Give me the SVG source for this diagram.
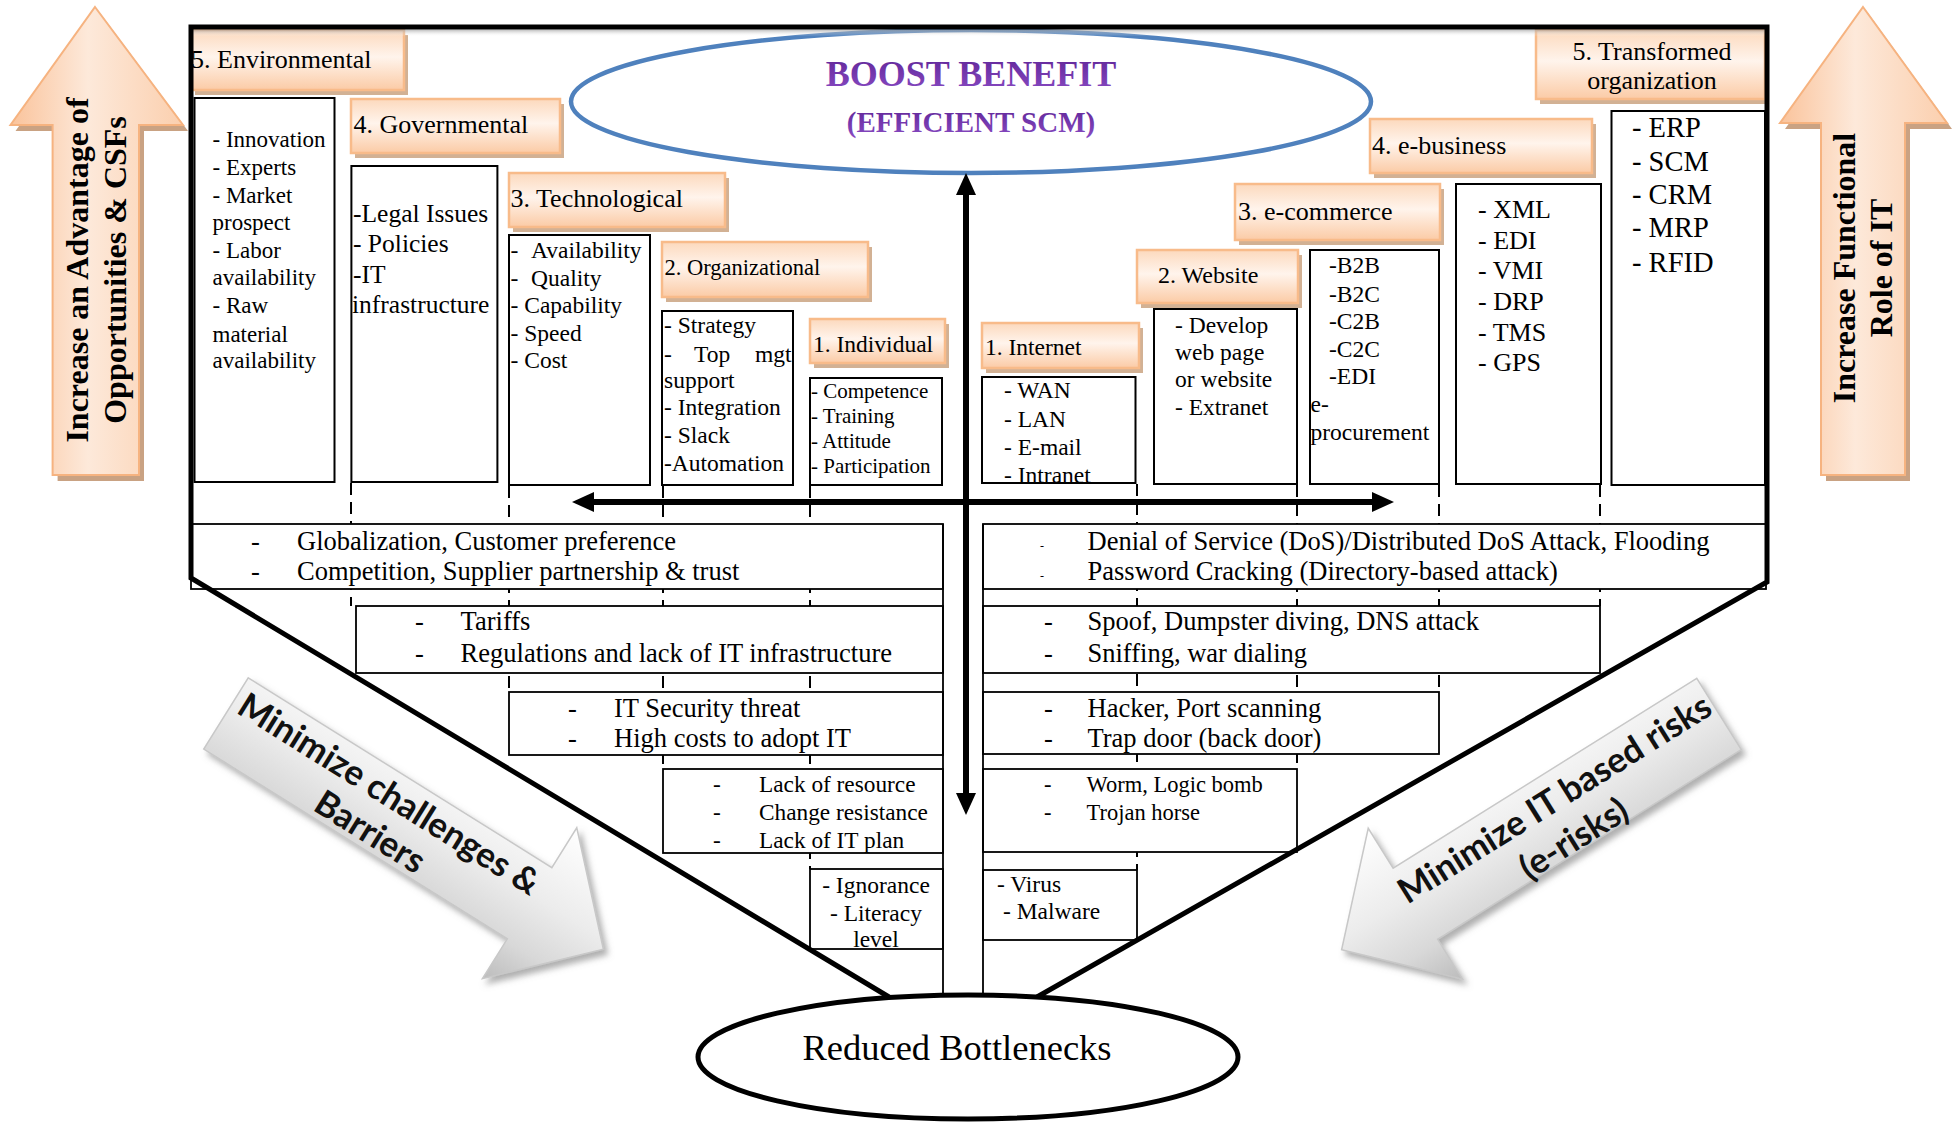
<svg xmlns="http://www.w3.org/2000/svg" width="1954" height="1123" viewBox="0 0 1954 1123">
<defs>
<style>
.sr{font-family:"Liberation Serif","Times New Roman",serif;fill:#000}
.sb{font-family:"Liberation Serif","Times New Roman",serif;font-weight:bold;fill:#000}
.gs{font-family:Lato,"Open Sans","Liberation Sans",sans-serif;font-weight:700;fill:#111}
.hsh{fill:#d2b194}
.hbg{fill:url(#hg);stroke:#f8bb8a;stroke-width:2.5}
.bx{fill:#fff;stroke:#000;stroke-width:2}
.row{fill:#fff;stroke:#000;stroke-width:1.8}
.dash{stroke:#000;stroke-width:2;stroke-dasharray:12 7;fill:none}
.frame{fill:none;stroke:#000;stroke-width:5;stroke-linejoin:miter}
.conn{stroke:#000;stroke-width:6;fill:none}
.oarr{fill:url(#og);stroke:#f6b380;stroke-width:2}
.osh{fill:#c9a283}
.garr{fill:url(#gg);stroke:#c8c8c8;stroke-width:1.5}
</style>
<linearGradient id="hg" x1="0" y1="0" x2="0" y2="1">
<stop offset="0" stop-color="#fcd9bd"/>
<stop offset="0.45" stop-color="#fff4ec"/>
<stop offset="1" stop-color="#fbcba6"/>
</linearGradient>
<linearGradient id="og" x1="0" y1="0" x2="1" y2="0">
<stop offset="0" stop-color="#fac39b"/>
<stop offset="0.45" stop-color="#fde9da"/>
<stop offset="1" stop-color="#fbcfae"/>
</linearGradient>
<linearGradient id="gg" gradientUnits="userSpaceOnUse" x1="0" y1="-89" x2="0" y2="89">
<stop offset="0" stop-color="#ffffff"/>
<stop offset="0.45" stop-color="#ececec"/>
<stop offset="0.75" stop-color="#d8d8d8"/>
<stop offset="1" stop-color="#bcbcbc"/>
</linearGradient>
<linearGradient id="pg" x1="0" y1="0" x2="0" y2="1">
<stop offset="0" stop-color="#5e2496"/>
<stop offset="1" stop-color="#8a4cc4"/>
</linearGradient>
<linearGradient id="topsh" x1="0" y1="0" x2="0" y2="1">
<stop offset="0" stop-color="#9a9a9a" stop-opacity="0.7"/>
<stop offset="1" stop-color="#ffffff" stop-opacity="0"/>
</linearGradient>
<filter id="ds" x="-15%" y="-15%" width="140%" height="140%">
<feDropShadow dx="4" dy="5" stdDeviation="3" flood-color="#7a7a7a" flood-opacity="0.6"/>
</filter>
<marker id="ah" viewBox="0 0 22 20" refX="0" refY="10" markerWidth="22" markerHeight="20" markerUnits="userSpaceOnUse" orient="auto-start-reverse">
<path d="M0,0 L22,10 L0,20 Z" fill="#000"/>
</marker>
</defs>

<rect width="1954" height="1123" fill="#fff"/>

<!-- side arrows: rising advantage / functional role -->
<g id="arrow-advantage">
<path class="osh" d="M100,13 L188,131 L144,131 L144,481 L57.6,481 L57.6,131 L15.5,131 Z"/>
<path class="oarr" d="M95,7 L183,125 L139,125 L139,475 L52.6,475 L52.6,125 L10.5,125 Z"/>
<text class="sb" font-size="32" text-anchor="middle" transform="translate(88,270) rotate(-90)">Increase an Advantage of<tspan x="0" y="38">Opportunities &amp; CSFs</tspan></text>
</g>
<g id="arrow-functional">
<path class="osh" d="M1868,13 L1952,129 L1910,129 L1910,481 L1826,481 L1826,129 L1785,129 Z"/>
<path class="oarr" d="M1863,7 L1947,123 L1905,123 L1905,475 L1821,475 L1821,123 L1780,123 Z"/>
<text class="sb" font-size="32" text-anchor="middle" transform="translate(1855,268) rotate(-90)">Increase Functional<tspan x="0" y="37">Role of IT</tspan></text>
</g>

<!-- dashed guide lines under the lower rows -->
<g id="guides">
<line class="dash" x1="351" y1="483" x2="351" y2="606"/>
<line class="dash" x1="509" y1="486" x2="509" y2="692"/>
<line class="dash" x1="663" y1="486" x2="663" y2="769"/>
<line class="dash" x1="810" y1="486" x2="810" y2="869"/>
<line class="dash" x1="1137" y1="484" x2="1137" y2="870"/>
<line class="dash" x1="1297" y1="485" x2="1297" y2="769"/>
<line class="dash" x1="1439" y1="485" x2="1439" y2="692"/>
<line class="dash" x1="1600" y1="485" x2="1600" y2="606"/>
</g>

<!-- goal ellipse -->
<g id="goal">
<ellipse cx="971" cy="101.5" rx="400" ry="71.5" fill="#fff" stroke="#4f81bd" stroke-width="4.5"/>
<text class="sb" font-size="36" text-anchor="middle" x="971" y="86" style="fill:url(#pg)">BOOST BENEFIT</text>
<text class="sb" font-size="29" text-anchor="middle" x="971" y="132" style="fill:url(#pg)">(EFFICIENT SCM)</text>
</g>

<!-- left column: barriers side headers -->
<g id="hdr-environmental">
<rect class="hsh" x="195" y="35" width="213" height="60"/>
<rect class="hbg" x="191" y="30" width="213" height="60"/>
<text class="sr" font-size="26" x="191" y="68">5. Environmental</text>
</g>
<g id="hdr-governmental">
<rect class="hsh" x="355" y="104" width="209" height="54"/>
<rect class="hbg" x="351" y="99" width="209" height="54"/>
<text class="sr" font-size="26" x="353.5" y="133">4. Governmental</text>
</g>
<g id="hdr-technological">
<rect class="hsh" x="513" y="178" width="216" height="54"/>
<rect class="hbg" x="509" y="173" width="216" height="54"/>
<text class="sr" font-size="26" x="510.5" y="207">3. Technological</text>
</g>
<g id="hdr-organizational">
<rect class="hsh" x="666" y="247" width="206" height="55"/>
<rect class="hbg" x="662" y="242" width="206" height="55"/>
<text class="sr" font-size="22.5" x="664.5" y="275">2. Organizational</text>
</g>
<g id="hdr-individual">
<rect class="hsh" x="814" y="324" width="135" height="44"/>
<rect class="hbg" x="810" y="319" width="135" height="44"/>
<text class="sr" font-size="23.5" x="813" y="352">1. Individual</text>
</g>

<!-- right column: IT stage headers -->
<g id="hdr-internet">
<rect class="hsh" x="986" y="328" width="157" height="45"/>
<rect class="hbg" x="982" y="323" width="157" height="45"/>
<text class="sr" font-size="23.5" x="985" y="355">1. Internet</text>
</g>
<g id="hdr-website">
<rect class="hsh" x="1141" y="255" width="161" height="53"/>
<rect class="hbg" x="1137" y="250" width="161" height="53"/>
<text class="sr" font-size="24" x="1158" y="283">2. Website</text>
</g>
<g id="hdr-ecommerce">
<rect class="hsh" x="1239" y="189" width="205" height="56"/>
<rect class="hbg" x="1235" y="184" width="205" height="56"/>
<text class="sr" font-size="26" x="1238" y="220">3. e-commerce</text>
</g>
<g id="hdr-ebusiness">
<rect class="hsh" x="1374" y="124" width="222" height="54"/>
<rect class="hbg" x="1370" y="119" width="222" height="54"/>
<text class="sr" font-size="26" x="1372" y="154">4. e-business</text>
</g>
<g id="hdr-transformed">
<rect class="hsh" x="1540" y="35" width="229" height="69"/>
<rect class="hbg" x="1536" y="30" width="229" height="69"/>
<text class="sr" font-size="26" text-anchor="middle" x="1652" y="60">5. Transformed<tspan x="1652" y="89">organization</tspan></text>
</g>

<!-- content boxes -->
<g id="box-environmental">
<rect class="bx" x="194.5" y="98" width="140" height="384"/>
<text class="sr" font-size="23">
<tspan x="212.5" y="147">- Innovation</tspan>
<tspan x="212.5" y="175">- Experts</tspan>
<tspan x="212.5" y="203">- Market</tspan>
<tspan x="212.5" y="230">prospect</tspan>
<tspan x="212.5" y="258">- Labor</tspan>
<tspan x="212.5" y="285">availability</tspan>
<tspan x="212.5" y="313">- Raw</tspan>
<tspan x="212.5" y="342">material</tspan>
<tspan x="212.5" y="368">availability</tspan>
</text>
</g>
<g id="box-governmental">
<rect class="bx" x="351.4" y="166" width="146" height="316"/>
<text class="sr" font-size="25.5">
<tspan x="353" y="222">-Legal Issues</tspan>
<tspan x="353" y="252">- Policies</tspan>
<tspan x="353" y="283">-IT</tspan>
<tspan x="352" y="313">infrastructure</tspan>
</text>
</g>
<g id="box-technological">
<rect class="bx" x="509" y="235" width="141" height="250"/>
<text class="sr" font-size="23.5">
<tspan x="510.5" y="258">-</tspan><tspan x="531" y="258">Availability</tspan>
<tspan x="510.5" y="286">-</tspan><tspan x="531" y="286">Quality</tspan>
<tspan x="510.5" y="313">- Capability</tspan>
<tspan x="510.5" y="341">- Speed</tspan>
<tspan x="510.5" y="368">- Cost</tspan>
</text>
</g>
<g id="box-organizational">
<rect class="bx" x="662" y="311" width="131" height="174"/>
<text class="sr" font-size="23.5">
<tspan x="664" y="333">- Strategy</tspan>
<tspan x="664" y="362">-</tspan><tspan x="694" y="362">Top</tspan><tspan x="755" y="362">mgt</tspan>
<tspan x="664" y="388">support</tspan>
<tspan x="664" y="415">- Integration</tspan>
<tspan x="664" y="443">- Slack</tspan>
<tspan x="664" y="471">-Automation</tspan>
</text>
</g>
<g id="box-individual">
<rect class="bx" x="810" y="378" width="132" height="107"/>
<text class="sr" font-size="21">
<tspan x="811" y="398">- Competence</tspan>
<tspan x="811" y="423">- Training</tspan>
<tspan x="811" y="448">- Attitude</tspan>
<tspan x="811" y="473">- Participation</tspan>
</text>
</g>
<g id="box-internet">
<rect class="bx" x="982" y="377" width="153.5" height="106"/>
<text class="sr" font-size="23.5">
<tspan x="1004" y="398">- WAN</tspan>
<tspan x="1004" y="427">- LAN</tspan>
<tspan x="1004" y="455">- E-mail</tspan>
<tspan x="1004" y="483">- Intranet</tspan>
</text>
</g>
<g id="box-website">
<rect class="bx" x="1154" y="309" width="143" height="175"/>
<text class="sr" font-size="23.5">
<tspan x="1175" y="333">- Develop</tspan>
<tspan x="1175" y="360">web page</tspan>
<tspan x="1175" y="387">or website</tspan>
<tspan x="1175" y="415">- Extranet</tspan>
</text>
</g>
<g id="box-ecommerce">
<rect class="bx" x="1310" y="250" width="129" height="234"/>
<text class="sr" font-size="23.5">
<tspan x="1329" y="273">-B2B</tspan>
<tspan x="1329" y="302">-B2C</tspan>
<tspan x="1329" y="329">-C2B</tspan>
<tspan x="1329" y="357">-C2C</tspan>
<tspan x="1329" y="384">-EDI</tspan>
<tspan x="1310.5" y="412">e-</tspan>
<tspan x="1310.5" y="440">procurement</tspan>
</text>
</g>
<g id="box-ebusiness">
<rect class="bx" x="1456" y="184" width="145" height="300"/>
<text class="sr" font-size="26">
<tspan x="1478" y="218">- XML</tspan>
<tspan x="1478" y="249">- EDI</tspan>
<tspan x="1478" y="279">- VMI</tspan>
<tspan x="1478" y="310">- DRP</tspan>
<tspan x="1478" y="341">- TMS</tspan>
<tspan x="1478" y="371">- GPS</tspan>
</text>
</g>
<g id="box-transformed">
<rect class="bx" x="1611.5" y="111" width="153.5" height="374"/>
<text class="sr" font-size="28.5">
<tspan x="1632" y="137">- ERP</tspan>
<tspan x="1632" y="171">- SCM</tspan>
<tspan x="1632" y="204">- CRM</tspan>
<tspan x="1632" y="237">- MRP</tspan>
<tspan x="1632" y="272">- RFID</tspan>
</text>
</g>

<!-- lower left: challenges and barriers -->
<g id="row-environmental-barriers">
<rect class="row" x="191" y="524" width="752" height="65"/>
<text class="sr" font-size="26.5"><tspan x="251" y="550">-</tspan><tspan x="297" y="550">Globalization, Customer preference</tspan><tspan x="251" y="580">-</tspan><tspan x="297" y="580">Competition, Supplier partnership &amp; trust</tspan></text>
</g>
<g id="row-governmental-barriers">
<rect class="row" x="356" y="606" width="587" height="67"/>
<text class="sr" font-size="26.5"><tspan x="415" y="630">-</tspan><tspan x="460.6" y="630">Tariffs</tspan><tspan x="415" y="662">-</tspan><tspan x="460.6" y="662">Regulations and lack of IT infrastructure</tspan></text>
</g>
<g id="row-technological-barriers">
<rect class="row" x="509" y="692" width="434" height="63"/>
<text class="sr" font-size="26.5"><tspan x="568" y="717">-</tspan><tspan x="614" y="717">IT Security threat</tspan><tspan x="568" y="747">-</tspan><tspan x="614" y="747">High costs to adopt IT</tspan></text>
</g>
<g id="row-organizational-barriers">
<rect class="row" x="663" y="769" width="280" height="84"/>
<text class="sr" font-size="23.3"><tspan x="713" y="792">-</tspan><tspan x="759" y="792">Lack of resource</tspan><tspan x="713" y="820">-</tspan><tspan x="759" y="820">Change resistance</tspan><tspan x="713" y="848">-</tspan><tspan x="759" y="848">Lack of IT plan</tspan></text>
</g>
<g id="row-individual-barriers">
<rect class="row" x="810" y="869" width="133" height="80"/>
<text class="sr" font-size="23.5" text-anchor="middle"><tspan x="876" y="893">- Ignorance</tspan><tspan x="876" y="921">- Literacy</tspan><tspan x="876" y="947">level</tspan></text>
</g>

<!-- lower right: IT based risks -->
<g id="row-ebusiness-risks">
<rect class="row" x="983" y="524" width="783" height="65"/>
<text class="sr" font-size="26.5"><tspan x="1040" y="550" font-size="12">-</tspan><tspan x="1087.5" y="550">Denial of Service (DoS)/Distributed DoS Attack, Flooding</tspan><tspan x="1040" y="580" font-size="12">-</tspan><tspan x="1087.5" y="580">Password Cracking (Directory-based attack)</tspan></text>
</g>
<g id="row-ecommerce-risks">
<rect class="row" x="983" y="606" width="617" height="67"/>
<text class="sr" font-size="26.5"><tspan x="1044" y="630">-</tspan><tspan x="1087.5" y="630">Spoof, Dumpster diving, DNS attack</tspan><tspan x="1044" y="662">-</tspan><tspan x="1087.5" y="662">Sniffing, war dialing</tspan></text>
</g>
<g id="row-website-risks">
<rect class="row" x="983" y="692" width="456" height="62"/>
<text class="sr" font-size="26.5"><tspan x="1044" y="717">-</tspan><tspan x="1087.5" y="717">Hacker, Port scanning</tspan><tspan x="1044" y="747">-</tspan><tspan x="1087.5" y="747">Trap door (back door)</tspan></text>
</g>
<g id="row-internet-risks">
<rect class="row" x="983" y="769" width="314" height="83"/>
<text class="sr" font-size="22.5"><tspan x="1044" y="792">-</tspan><tspan x="1086.5" y="792">Worm, Logic bomb</tspan><tspan x="1044" y="820">-</tspan><tspan x="1086.5" y="820">Trojan horse</tspan></text>
</g>
<g id="row-basic-risks">
<rect class="row" x="983" y="870" width="154" height="70"/>
<text class="sr" font-size="23.5"><tspan x="997" y="892">-  Virus</tspan><tspan x="1003" y="919">- Malware</tspan></text>
</g>

<!-- central column edges -->
<g id="column-edges" stroke="#000" stroke-width="1.8">
<line x1="943" y1="524" x2="943" y2="1000"/>
<line x1="983" y1="524" x2="983" y2="1000"/>
</g>

<!-- funnel frame -->
<g id="frame">
<rect x="193" y="29.5" width="1572" height="7" fill="url(#topsh)"/>
<path class="frame" d="M889,997 L191,578 L191,27 L1767,27 L1767,582 L1037,997"/>
</g>

<!-- axis connectors -->
<g id="connectors">
<line class="conn" x1="594" y1="502" x2="1372" y2="502" marker-start="url(#ah)" marker-end="url(#ah)"/>
<line class="conn" x1="966" y1="195" x2="966" y2="793" marker-start="url(#ah)" marker-end="url(#ah)"/>
</g>

<!-- outcome ellipse -->
<g id="outcome">
<ellipse cx="968" cy="1057" rx="270" ry="62" fill="#fff" stroke="#000" stroke-width="5"/>
<text class="sr" font-size="36.5" text-anchor="middle" x="957" y="1060">Reduced Bottlenecks</text>
</g>

<!-- grey direction arrows -->
<g id="arrow-challenges">
<g filter="url(#ds)">
<g transform="translate(226,713.5) rotate(32)">
<path class="garr" d="M0,-42 L358,-42 L358,-89 L445,0 L358,89 L358,42 L0,42 Z"/>
</g>
</g>
<g transform="translate(226,713.5) rotate(32)">
<text class="gs" font-size="35" text-anchor="middle"><tspan x="181" y="-6">Minimize challenges &amp;</tspan><tspan x="185" y="36">Barriers</tspan></text>
</g>
</g>
<g id="arrow-erisks">
<g filter="url(#ds)">
<g transform="translate(1719,714) scale(-1,1) rotate(32)">
<path class="garr" d="M0,-42 L358,-42 L358,-89 L445,0 L358,89 L358,42 L0,42 Z"/>
</g>
</g>
<text class="gs" font-size="35" text-anchor="middle" transform="translate(1561,809) rotate(-32)"><tspan x="0" y="0">Minimize IT based risks</tspan><tspan x="-5" y="44">(e-risks)</tspan></text>
</g>
</svg>
